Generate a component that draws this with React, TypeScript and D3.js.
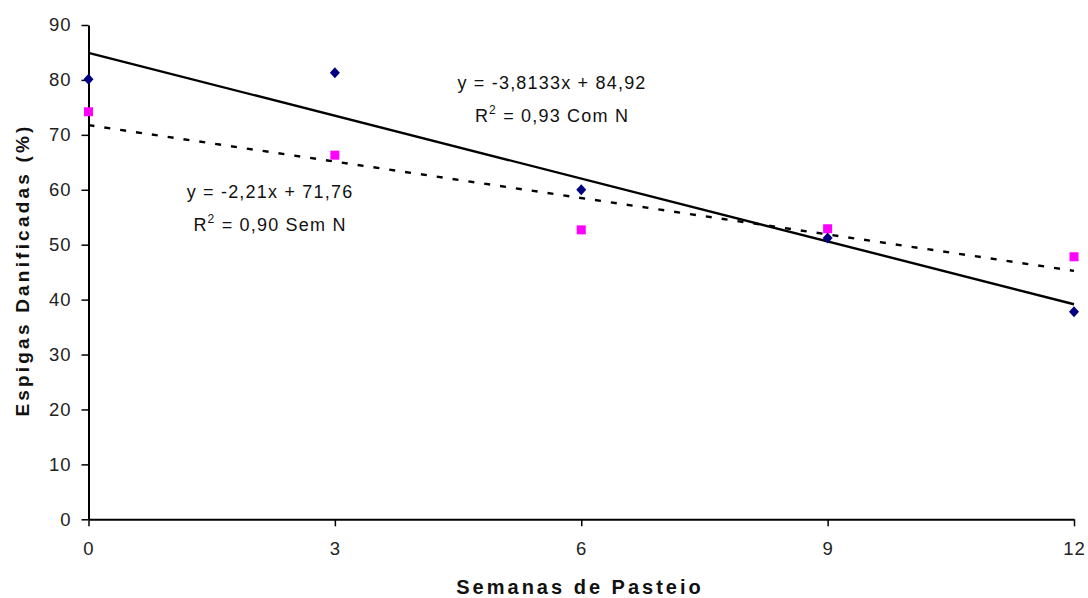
import React, { useEffect, useRef } from "react";
import * as d3 from "d3";

// weeks of grazing and % damaged ears
const weeks = [0, 3, 6, 9, 12];
const comN = [80.1, 81.3, 60.0, 51.2, 37.8];
const semN = [74.2, 66.3, 52.7, 52.9, 47.8];
const xTicks = [0, 3, 6, 9, 12];
const yTicks = [0, 10, 20, 30, 40, 50, 60, 70, 80, 90];

// fitted trend lines as printed on the chart
const comNFit = { slope: -3.8133, intercept: 84.92 };
const semNFit = { slope: -2.21, intercept: 71.76 };

const FONT = "'Liberation Sans', Arial, sans-serif";

export default function App() {
  const ref = useRef<SVGSVGElement>(null);

  useEffect(() => {
    const svg = d3.select(ref.current);
    svg.selectAll("*").remove();

    const x = d3.scaleLinear().domain([0, 12]).range([88.5, 1074]);
    const y = d3.scaleLinear().domain([0, 90]).range([519.3, 25]);

    const g = svg.append("g");

    // y axis
    const yAxis = g
      .append("g")
      .attr("transform", `translate(${x(0)},0)`)
      .call(d3.axisLeft(y).tickValues(yTicks).tickSize(7).tickSizeOuter(0).tickPadding(10));
    // x axis
    const xAxis = g
      .append("g")
      .attr("transform", `translate(0,${y(0)})`)
      .call(d3.axisBottom(x).tickValues(xTicks).tickSize(7).tickSizeOuter(0).tickPadding(16));

    [yAxis, xAxis].forEach(ax => {
      ax.select(".domain").attr("stroke", "#000").attr("stroke-width", 2);
      ax.selectAll(".tick line").attr("stroke", "#000").attr("stroke-width", 1.5);
      ax.selectAll(".tick text")
        .attr("fill", "#222")
        .style("font-family", FONT)
        .style("font-size", "18.5px")
        .style("letter-spacing", "1px");
    });

    // trend lines
    const fitLine = (fit: { slope: number; intercept: number }) =>
      d3.line<number>()
        .x(d => x(d))
        .y(d => y(fit.intercept + fit.slope * d))([0, 12]);

    g.append("path")
      .attr("d", fitLine(semNFit))
      .attr("fill", "none")
      .attr("stroke", "#000")
      .attr("stroke-width", 2.4)
      .attr("stroke-dasharray", "6,10");

    g.append("path")
      .attr("d", fitLine(comNFit))
      .attr("fill", "none")
      .attr("stroke", "#000")
      .attr("stroke-width", 2.4);

    // markers
    g.selectAll(".sem")
      .data(weeks)
      .enter()
      .append("rect")
      .attr("x", (d) => x(d) - 4.5)
      .attr("y", (d, i) => y(semN[i]) - 4.5)
      .attr("width", 9)
      .attr("height", 9)
      .attr("fill", "#ff00ff");

    // excel-style diamond, a bit wider than d3's symbolDiamond
    const diamond = "M0,-5.5L5,0L0,5.5L-5,0Z";
    g.selectAll(".com")
      .data(weeks)
      .enter()
      .append("path")
      .attr("d", diamond)
      .attr("transform", (d, i) => `translate(${x(d)},${y(comN[i])})`)
      .attr("fill", "#000080");

    // equation labels
    const eq = (cx: number, cy: number, line1: string, r2: string) => {
      const t = g.append("g")
        .style("font-family", FONT)
        .style("font-size", "18px")
        .style("letter-spacing", "1.2px")
        .style("white-space", "pre")
        .attr("fill", "#111")
        .attr("text-anchor", "middle");
      t.append("text").attr("x", cx).attr("y", cy).text(line1);
      const t2 = t.append("text").attr("x", cx).attr("y", cy + 33);
      t2.append("tspan").text("R");
      t2.append("tspan").attr("dy", -8).style("font-size", "12px").text("2");
      t2.append("tspan").attr("dy", 8).text(r2);
    };
    eq(552, 89, "y = -3,8133x + 84,92", " = 0,93 Com N");
    eq(270, 198, "y = -2,21x + 71,76", " = 0,90  Sem N");

    // axis titles
    g.append("text")
      .attr("x", 580)
      .attr("y", 594)
      .attr("text-anchor", "middle")
      .style("font-family", FONT)
      .style("font-size", "20px")
      .style("font-weight", "bold")
      .style("letter-spacing", "3px")
      .attr("fill", "#111")
      .text("Semanas de Pasteio");

    g.append("text")
      .attr("transform", "translate(29,270) rotate(-90)")
      .attr("text-anchor", "middle")
      .style("font-family", FONT)
      .style("font-size", "19px")
      .style("font-weight", "bold")
      .style("letter-spacing", "3.2px")
      .attr("fill", "#111")
      .text("Espigas Danificadas (%)");
  }, []);

  return (
    <svg
      ref={ref}
      width={1088}
      height={598}
      style={{ position: "absolute", left: 0, top: 0, background: "#fff" }}
    />
  );
}
